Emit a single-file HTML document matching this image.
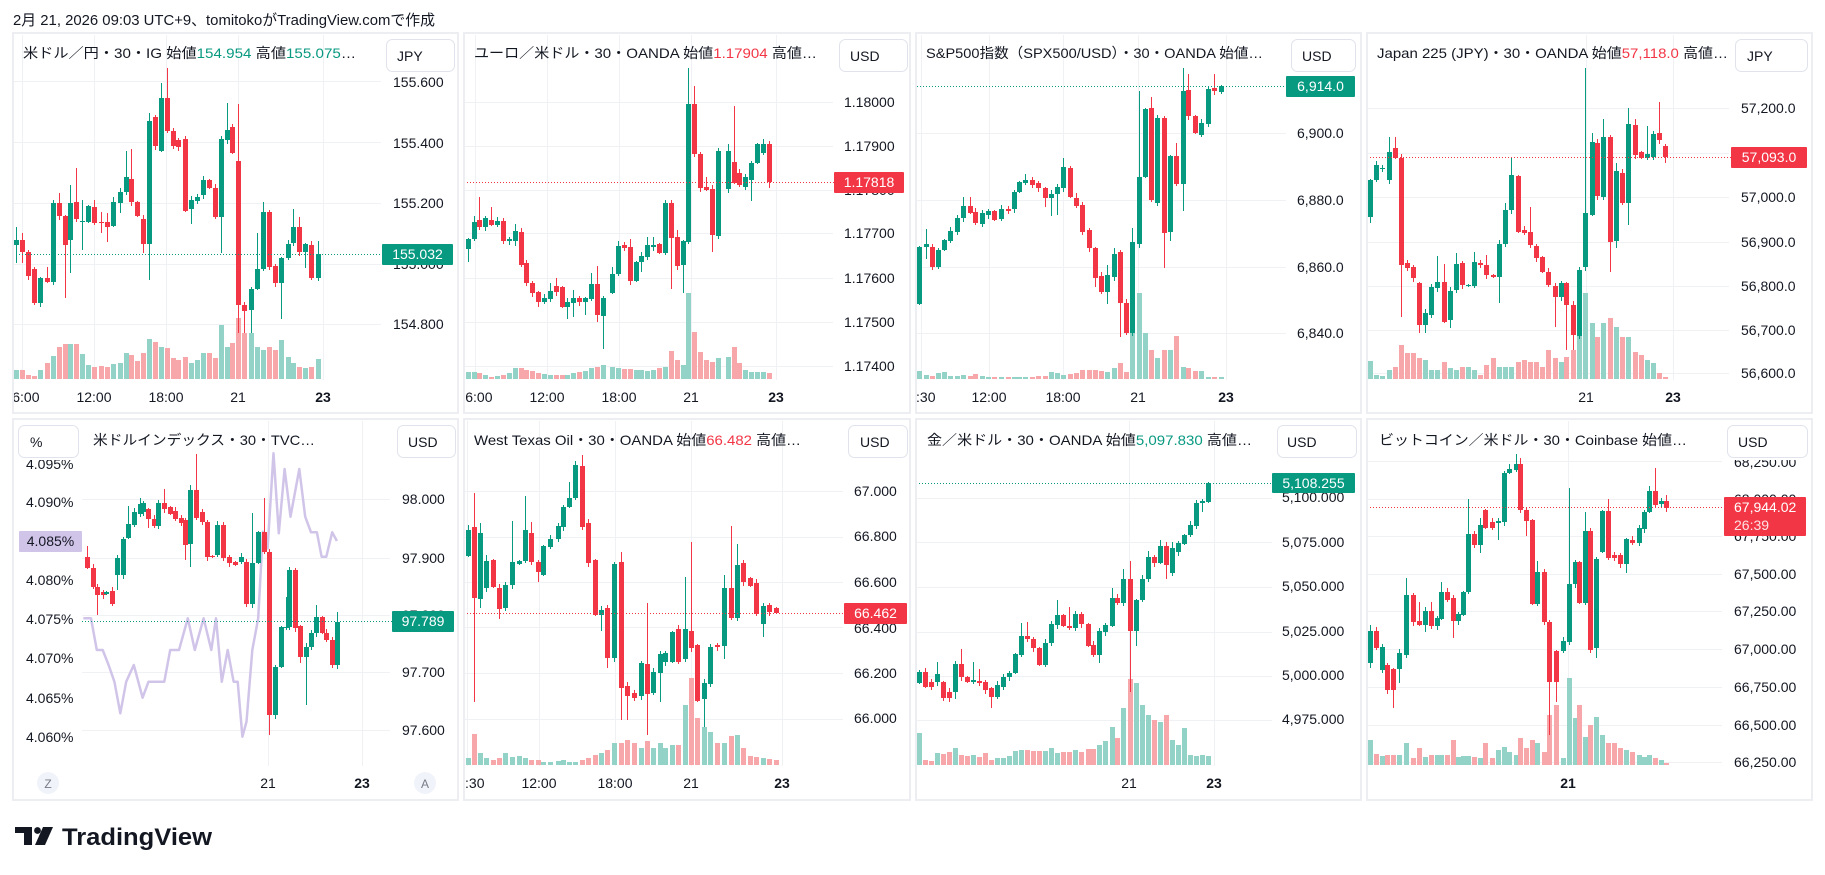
<!DOCTYPE html>
<html><head><meta charset="utf-8"><style>
html,body{margin:0;padding:0;background:#fff;width:1825px;height:875px;overflow:hidden}
svg{display:block}
text{font-family:"Liberation Sans","Noto Sans CJK JP",sans-serif;fill:#131722}
.ax{font-size:14px}
.tt{font-size:14px}
.tm{font-size:14px;text-anchor:middle}
.b{font-weight:bold}
.g{fill:#089981}.r{fill:#f23645}
.w{fill:#fff;font-size:14px;text-anchor:middle}
</style></head><body>
<svg id="s" width="1825" height="875" viewBox="0 0 1825 875" xmlns="http://www.w3.org/2000/svg">
<rect width="1825" height="875" fill="#fff"/>
<text x="13" y="25" font-size="15" textLength="422" lengthAdjust="spacingAndGlyphs">2月 21, 2026 09:03 UTC+9、tomitokoがTradingView.comで作成</text>

<path fill="none" stroke="#f0f1f4" stroke-width="1" d="
M13 81.5H381M13 142.5H381M13 203.5H381M13 264.5H381M13 324.5H381
M464 102.5H833M464 146.5H833M464 190.5H833M464 233.5H833M464 278.5H833M464 322.5H833M464 366.5H833
M917 133.5H1286M917 200.5H1286M917 267.5H1286M917 333.5H1286
M1367 108.5H1729M1367 153.5H1729M1367 197.5H1729M1367 242.5H1729M1367 286.5H1729M1367 330.5H1729M1367 373.5H1729
M82 499.5H390M82 558.5H390M82 615.5H390M82 672.5H390M82 730.5H390
M464 491.5H843M464 537.5H843M464 582.5H843M464 627.5H843M464 673.5H843M464 719.5H843
M916 498.5H1272M916 542.5H1272M916 587.5H1272M916 632.5H1272M916 676.5H1272M916 720.5H1272
M1367 461.5H1722M1367 499.5H1722M1367 536.5H1722M1367 574.5H1722M1367 611.5H1722M1367 649.5H1722M1367 687.5H1722M1367 725.5H1722M1367 762.5H1722
M22.5 35V380M94.5 35V380M166.5 35V380M238.5 35V380M323.5 35V380
M475.5 35V380M547.5 35V380M619.5 35V380M691.5 35V380M776.5 35V380
M921.5 35V380M989.5 35V380M1063.5 35V380M1138.5 35V380M1226.5 35V380
M1586.5 35V380M1673.5 35V380
M268.5 421V766M362.5 421V766
M467.5 421V766M539.5 421V766M615.5 421V766M691.5 421V766M782.5 421V766
M1129.5 421V766M1214.5 421V766
M1568.5 421V766"/>

<!-- DXY compare line -->
<polyline fill="none" stroke="#d1c4e9" stroke-width="2.5" stroke-linejoin="round" points="83.3,618.3 91,618.3 96.8,650 102.7,650 108.6,665 114.4,681.7 120.3,713.3 126.2,681.7 133.8,665 142.6,697.7 148.5,681.7 164.3,681.7 170.2,650 179,650 187.8,618.3 194.8,650 203.6,618.3 211.3,650 216,618.3 221.8,681.7 227.7,650 233.6,681.7 237.7,681.7 242.4,736.7 246.5,721.7 252.3,650 258.2,618.3 262.9,531.7 267.6,548.3 273.5,453.3 278.8,533.3 284.6,469 290.5,516.7 299.3,469 305.2,516.7 311,532.3 316.9,532.3 321.6,556.7 326.3,556.7 332.2,532.3 336.9,541"/>

<g id="cd"></g>

<!-- current price lines -->
<g fill="none" stroke-width="1" stroke-dasharray="1 2">
<path stroke="#089981" d="M13 254.5H382"/>
<path stroke="#f23645" d="M464 182.5H834"/>
<path stroke="#089981" d="M917 86.5H1286"/>
<path stroke="#f23645" d="M1367 157.5H1731"/>
<path stroke="#089981" d="M82 621.5H392"/>
<path stroke="#f23645" d="M464 613.5H844"/>
<path stroke="#089981" d="M916 483.5H1272"/>
<path stroke="#f23645" d="M1367 507.5H1724"/>
</g>

<!-- axis labels -->
<g class="ax">
<text x="393" y="87">155.600</text><text x="393" y="148">155.400</text><text x="393" y="208">155.200</text><text x="393" y="269">155.000</text><text x="393" y="329">154.800</text>
<text x="844" y="107">1.18000</text><text x="844" y="151">1.17900</text><text x="844" y="195">1.17800</text><text x="844" y="238">1.17700</text><text x="844" y="283">1.17600</text><text x="844" y="327">1.17500</text><text x="844" y="371">1.17400</text>
<text x="1297" y="138">6,900.0</text><text x="1297" y="205">6,880.0</text><text x="1297" y="272">6,860.0</text><text x="1297" y="338">6,840.0</text>
<text x="1741" y="113">57,200.0</text><text x="1741" y="158">57,100.0</text><text x="1741" y="202">57,000.0</text><text x="1741" y="247">56,900.0</text><text x="1741" y="291">56,800.0</text><text x="1741" y="335">56,700.0</text><text x="1741" y="378">56,600.0</text>
<text x="402" y="504">98.000</text><text x="402" y="563">97.900</text><text x="402" y="620">97.800</text><text x="402" y="677">97.700</text><text x="402" y="735">97.600</text>
<text x="26" y="469">4.095%</text><text x="26" y="507">4.090%</text><text x="26" y="585">4.080%</text><text x="26" y="624">4.075%</text><text x="26" y="663">4.070%</text><text x="26" y="703">4.065%</text><text x="26" y="742">4.060%</text>
<text x="854" y="496">67.000</text><text x="854" y="541">66.800</text><text x="854" y="587">66.600</text><text x="854" y="633">66.400</text><text x="854" y="678">66.200</text><text x="854" y="723">66.000</text>
<text x="1282" y="502">5,100.000</text><text x="1282" y="547">5,075.000</text><text x="1282" y="591">5,050.000</text><text x="1282" y="636">5,025.000</text><text x="1282" y="680">5,000.000</text><text x="1282" y="724">4,975.000</text>
<text x="1734" y="467">68,250.00</text><text x="1734" y="504">68,000.00</text><text x="1734" y="541">67,750.00</text><text x="1734" y="579">67,500.00</text><text x="1734" y="616">67,250.00</text><text x="1734" y="654">67,000.00</text><text x="1734" y="692">66,750.00</text><text x="1734" y="730">66,500.00</text><text x="1734" y="767">66,250.00</text>
</g>

<!-- top clipping for axes in row 2 -->
<rect x="14" y="421" width="68" height="39" fill="#fff"/>
<rect x="1723" y="421" width="88" height="39" fill="#fff"/>

<!-- time labels -->
<g class="tm">
<text x="22" y="402">06:00</text><text x="94" y="402">12:00</text><text x="166" y="402">18:00</text><text x="238" y="402">21</text><text x="323" y="402" class="b">23</text>
<text x="475" y="402">06:00</text><text x="547" y="402">12:00</text><text x="619" y="402">18:00</text><text x="691" y="402">21</text><text x="776" y="402" class="b">23</text>
<text x="918" y="402">06:30</text><text x="989" y="402">12:00</text><text x="1063" y="402">18:00</text><text x="1138" y="402">21</text><text x="1226" y="402" class="b">23</text>
<text x="1586" y="402">21</text><text x="1673" y="402" class="b">23</text>
<text x="268" y="788">21</text><text x="362" y="788" class="b">23</text>
<text x="467" y="788">06:30</text><text x="539" y="788">12:00</text><text x="615" y="788">18:00</text><text x="691" y="788">21</text><text x="782" y="788" class="b">23</text>
<text x="1129" y="788">21</text><text x="1214" y="788" class="b">23</text>
<text x="1568" y="788" class="b">21</text>
</g>
<circle cx="48" cy="783" r="11" fill="#f0f3fa"/><text x="48" y="788" font-size="12" text-anchor="middle" style="fill:#787b86">Z</text>
<circle cx="425" cy="783" r="11" fill="#f0f3fa"/><text x="425" y="788" font-size="12" text-anchor="middle" style="fill:#787b86">A</text>

<!-- gap whiteouts -->
<g fill="#fff">
<rect x="0" y="30" width="12" height="775"/><rect x="459" y="30" width="4" height="775"/><rect x="911" y="30" width="4" height="775"/><rect x="1362" y="30" width="4" height="775"/><rect x="1813" y="30" width="12" height="775"/>
<rect x="440" y="384" width="23" height="28"/><rect x="893" y="384" width="22" height="28"/><rect x="1345" y="384" width="21" height="28"/>
<rect x="440" y="770" width="23" height="29"/><rect x="893" y="770" width="22" height="29"/><rect x="1345" y="770" width="21" height="29"/>
</g>

<!-- panel frames -->
<g fill="none" stroke="#eceef1" stroke-width="2">
<rect x="13" y="33" width="445" height="380"/><rect x="464" y="33" width="446" height="380"/><rect x="916" y="33" width="445" height="380"/><rect x="1367" y="33" width="445" height="380"/>
<rect x="13" y="419" width="445" height="381"/><rect x="464" y="419" width="446" height="381"/><rect x="916" y="419" width="445" height="381"/><rect x="1367" y="419" width="445" height="381"/>
</g>

<!-- titles -->
<g class="tt">
<text x="23" y="58" textLength="333" lengthAdjust="spacingAndGlyphs">米ドル／円・30・IG  始値<tspan class="g">154.954</tspan>  高値<tspan class="g">155.075</tspan>…</text>
<text x="474" y="58" textLength="343" lengthAdjust="spacingAndGlyphs">ユーロ／米ドル・30・OANDA  始値<tspan class="r">1.17904</tspan>  高値…</text>
<text x="926" y="58" textLength="337" lengthAdjust="spacingAndGlyphs">S&amp;P500指数（SPX500/USD）・30・OANDA  始値…</text>
<text x="1377" y="58" textLength="351" lengthAdjust="spacingAndGlyphs">Japan 225 (JPY)・30・OANDA  始値<tspan class="r">57,118.0</tspan>  高値…</text>
<text x="93" y="445" textLength="222" lengthAdjust="spacingAndGlyphs">米ドルインデックス・30・TVC…</text>
<text x="474" y="445" textLength="327" lengthAdjust="spacingAndGlyphs">West Texas Oil・30・OANDA  始値<tspan class="r">66.482</tspan>  高値…</text>
<text x="927" y="445" textLength="325" lengthAdjust="spacingAndGlyphs">金／米ドル・30・OANDA  始値<tspan class="g">5,097.830</tspan>  高値…</text>
<text x="1379" y="445" textLength="308" lengthAdjust="spacingAndGlyphs">ビットコイン／米ドル・30・Coinbase  始値…</text>
</g>

<!-- currency boxes -->
<g fill="#fff" stroke="#e0e3eb" stroke-width="1">
<rect x="386.5" y="39.5" width="68" height="32" rx="6"/><rect x="839.5" y="39.5" width="68" height="32" rx="6"/><rect x="1291.5" y="39.5" width="64" height="32" rx="6"/><rect x="1735.5" y="39.5" width="72" height="32" rx="6"/>
<rect x="18.5" y="425.5" width="60" height="32" rx="6"/><rect x="397.5" y="425.5" width="58" height="32" rx="6"/><rect x="848.5" y="425.5" width="59" height="32" rx="6"/><rect x="1277.5" y="425.5" width="79" height="32" rx="6"/><rect x="1727.5" y="425.5" width="80" height="32" rx="6"/>
</g>
<g class="ax">
<text x="397" y="61">JPY</text><text x="850" y="61">USD</text><text x="1302" y="61">USD</text><text x="1747" y="61">JPY</text>
<text x="30" y="447">%</text><text x="408" y="447">USD</text><text x="860" y="447">USD</text><text x="1287" y="447">USD</text><text x="1738" y="447">USD</text>
</g>

<!-- last price labels -->
<rect x="382" y="244" width="71" height="21" fill="#089981" rx="1"/><text class="w" x="417.5" y="259">155.032</text>
<rect x="834" y="172" width="70" height="21" fill="#f23645" rx="1"/><text class="w" x="869" y="187">1.17818</text>
<rect x="1286" y="76" width="69" height="21" fill="#089981" rx="1"/><text class="w" x="1320.5" y="91">6,914.0</text>
<rect x="1731" y="147" width="76" height="21" fill="#f23645" rx="1"/><text class="w" x="1769" y="162">57,093.0</text>
<rect x="392" y="611" width="62" height="21" fill="#089981" rx="1"/><text class="w" x="423" y="626">97.789</text>
<rect x="19" y="531" width="63" height="21" fill="#d1c4e9" rx="1"/><text class="ax" x="50.5" y="546" text-anchor="middle">4.085%</text>
<rect x="844" y="603" width="63" height="21" fill="#f23645" rx="1"/><text class="w" x="875.5" y="618">66.462</text>
<rect x="1272" y="473" width="83" height="20" fill="#089981" rx="1"/><text class="w" x="1313.5" y="488">5,108.255</text>
<rect x="1724" y="497" width="82" height="39" fill="#f23645" rx="1"/><text x="1734" y="512" font-size="14" style="fill:#fff">67,944.02</text><text x="1734" y="530" font-size="14" style="fill:#fff;opacity:.85">26:39</text>

<!-- logo -->
<g fill="#131722">
<path d="M15 827H32V845H24V833H15Z"/>
<circle cx="37.5" cy="830.5" r="3.4"/>
<path d="M43 827H53L45 845H35Z"/>
</g>
<text x="62" y="845" font-size="24" font-weight="bold" textLength="150" lengthAdjust="spacingAndGlyphs">TradingView</text>
</svg>
<script>
(function(){
var NS="http://www.w3.org/2000/svg",G=document.getElementById('cd');
function el(t,a){var e=document.createElementNS(NS,t);for(var k in a)e.setAttribute(k,a[k]);G.appendChild(e);return e;}
var UP='#089981',DN='#f23645',VU='#92d2c7',VD='#f7a7a9';
function P(cx,cy,vb,C,V){
 var i,c,x;
 if(V){for(i=0;i<C.length;i++){c=C[i];x=Math.round(cx+c[0]/1.704);var v=(V[i]!==undefined)?V[i]:vb-12;var yt=Math.round(cy+v/3),yb=Math.round(cy+vb/3);
  el('rect',{x:x-2,y:yt,width:5,height:Math.max(1,yb-yt),fill:c[1]?VU:VD});}}
 for(i=0;i<C.length;i++){c=C[i];x=Math.round(cx+c[0]/1.704);
  var t=Math.round(cy+c[2]/3),b=Math.max(Math.round(cy+c[3]/3),t+1);
  var h=c[4]?Math.round(cy+c[4]/3):t-(1+(i*7)%4),l=c[5]?Math.round(cy+c[5]/3):b+(1+(i*5)%4);
  var col=c[1]?UP:DN;
  el('rect',{x:x,y:h,width:1,height:l-h,fill:col});
  el('rect',{x:x-2,y:t,width:5,height:b-t,fill:col});}
}
P(0,0,1137,[[27,1,720,735,680,790],[38,0,720,755,700,790],[48,0,757,828,750,840],[58,0,808,910,0,915],[68,1,835,910,0,922],[80,0,835,845,800,850],[90,1,610,845,600,0],[100,0,610,648,580,0],[110,0,648,735,0,893],[120,1,610,720,555,820],[130,0,607,657,505,0],[140,1,662,666,600,750],[150,1,617,665,0,0],[160,0,620,670,600,0],[172,0,665,668,635,700],[182,0,665,680,640,725],[192,1,607,678,590,0],[204,1,577,608,0,640],[214,1,532,577,453,0],[224,0,536,605,448,0],[234,0,605,648,0,0],[244,0,657,731,0,760],[254,1,363,731,340,840],[264,0,350,437,0,0],[274,1,293,452,250,0],[284,0,293,393,205,0],[294,0,393,438,0,0],[304,0,420,440,0,0],[316,0,418,632,408,0],[326,1,600,628,0,672],[336,1,590,603,0,0],[346,1,540,585,528,0],[356,0,540,565,0,0],[366,0,565,650,0,0],[376,1,418,650,0,760],[386,1,390,420,310,0],[396,0,380,458,372,0],[406,0,483,915,313,1000],[416,0,915,933,0,1000],[428,1,868,930,0,1000],[438,1,806,868,700,0],[448,1,637,806,605,0],[458,0,635,800,630,0],[468,0,797,850,0,0],[478,1,775,850,0,958],[490,1,732,775,0,0],[500,1,680,730,628,0],[510,0,680,755,650,0],[520,1,733,755,0,805],[530,0,735,833,0,0],[542,1,762,835,722,0]],
[1110,1110,1125,1128,1110,1090,1068,1040,1032,1032,1032,1062,1095,1100,1098,1100,1092,1090,1060,1065,1082,1060,1018,1025,1040,1045,1075,1080,1072,1090,1080,1060,1060,1075,975,1040,1030,955,1000,1000,1040,1050,1040,1050,1020,1070,1090,1100,1105,1100,1078]);
P(0,0,1137,[[797,1,717,748,0,785],[807,1,667,717,647,0],[817,0,660,680,592,0],[827,1,655,680,0,0],[837,0,660,675,622,0],[847,1,662,676,0,0],[857,0,662,722,0,0],[867,1,718,722,0,0],[877,1,693,722,673,738],[887,0,695,795,0,0],[897,0,790,850,0,0],[907,0,848,880,0,0],[917,0,875,905,0,920],[927,1,893,905,0,0],[937,1,872,897,848,0],[947,0,858,875,833,0],[957,0,860,922,0,0],[967,1,906,922,0,958],[977,1,893,908,870,950],[987,0,893,905,0,0],[997,1,893,905,0,945],[1007,1,853,897,818,0],[1017,0,853,945,798,965],[1027,1,893,948,0,1048],[1043,1,822,880,800,0],[1053,1,738,822,723,0],[1063,0,735,745,0,0],[1073,0,740,843,718,0],[1083,1,785,843,0,0],[1093,1,767,785,0,815],[1103,1,735,770,712,0],[1113,1,735,740,712,0],[1123,0,733,760,0,0],[1133,1,610,760,600,0],[1143,0,610,715,0,868],[1153,0,712,797,690,0],[1163,1,722,795,0,880],[1173,1,312,727,205,0],[1183,0,312,463,258,0],[1193,0,463,565,0,0],[1203,0,562,570,530,0],[1213,0,567,705,0,757],[1223,1,453,708,0,0],[1240,1,453,568,432,0],[1250,0,485,550,318,0],[1260,0,520,555,0,0],[1270,1,530,560,0,0],[1280,1,488,540,0,602],[1290,1,432,490,0,0],[1300,1,432,460,418,0],[1310,0,432,547,0,565]],
[1117,1117,1120,1125,1130,1128,1125,1118,1105,1105,1110,1112,1120,1122,1125,1125,1125,1125,1120,1115,1112,1105,1102,1095,1100,1105,1108,1108,1110,1110,1112,1110,1105,1100,1053,1080,1095,880,995,1055,1080,1085,1075,1070,1040,1090,1110,1115,1115,1117,1120,1115]);
P(905,0,1137,[[24,1,740,912,0,915],[35,1,733,742,688,778],[46,0,740,800,0,0],[56,1,750,800,0,808],[67,1,720,750,0,0],[77,1,693,722,0,0],[88,1,655,697,0,0],[98,1,617,655,590,0],[110,0,617,640,590,0],[120,0,637,670,0,675],[131,1,640,672,0,0],[141,1,633,645,0,0],[151,0,633,660,0,0],[164,1,628,658,0,0],[175,0,626,632,0,0],[185,1,575,627,0,0],[195,1,545,577,0,0],[205,1,540,548,522,0],[216,0,540,555,0,0],[227,0,548,565,0,0],[239,0,563,593,0,620],[249,1,582,593,0,648],[259,1,561,583,0,645],[270,1,500,565,475,0],[282,0,503,592,497,0],[292,0,595,617,580,0],[302,0,615,695,0,0],[313,0,690,743,0,0],[323,0,745,835,0,862],[334,0,828,875,0,0],[344,1,825,875,795,912],[356,1,762,832,745,0],[367,0,755,910,750,1010],[377,0,910,1000,0,0],[387,1,726,1000,685,0],[399,1,530,732,273,0],[409,1,327,530,0,0],[419,0,323,600,292,0],[429,1,353,608,0,0],[441,0,353,700,0,805],[451,1,468,695,0,722],[461,0,468,553,430,0],[473,1,272,552,205,632],[483,0,270,347,222,0],[494,0,347,400,0,0],[505,1,370,405,0,0],[516,1,268,373,0,0],[527,0,264,272,222,0],[538,1,258,275,0,282]],
[1113,1125,1127,1120,1115,1128,1128,1125,1128,1122,1128,1130,1130,1130,1130,1130,1130,1130,1130,1128,1128,1115,1120,1125,1122,1120,1110,1110,1110,1112,1115,1105,1088,1115,1000,880,1000,1050,1075,1050,1050,1008,1100,1105,1112,1112,1130,1132,1132]);
P(905,0,1137,[[793,1,540,652,0,670],[803,1,495,540,0,0],[813,1,503,507,0,0],[824,1,455,540,410,0],[835,0,445,475,410,0],[845,0,475,795,0,950],[855,0,790,805,0,0],[865,0,800,835,0,0],[876,0,850,975,0,1000],[886,1,940,975,0,1000],[897,1,860,945,0,0],[907,1,845,865,768,0],[918,0,845,965,793,0],[929,1,872,960,0,985],[939,1,792,870,760,0],[949,0,790,855,0,0],[959,1,855,858,0,0],[970,1,787,857,755,0],[980,0,790,795,0,0],[990,0,795,825,765,0],[1002,0,825,830,0,0],[1013,1,732,830,0,908],[1023,1,630,732,608,0],[1033,1,525,630,472,0],[1044,0,528,697,0,700],[1054,0,690,700,0,0],[1065,0,697,735,622,0],[1075,0,737,775,0,0],[1086,0,772,815,0,0],[1096,0,815,855,0,0],[1107,0,858,892,0,980],[1117,1,850,892,0,0],[1127,0,850,915,0,1050],[1138,0,915,1005,0,1050],[1149,1,810,1008,0,0],[1159,1,640,800,205,0],[1170,1,425,645,400,0],[1180,0,428,587,0,600],[1190,1,410,590,358,0],[1201,0,410,725,0,815],[1212,1,513,722,490,745],[1222,0,518,610,0,0],[1232,1,373,610,325,675],[1244,0,375,465,357,0],[1254,0,455,475,0,0],[1264,1,462,475,378,0],[1275,1,402,472,0,0],[1285,0,400,420,305,0],[1295,0,437,470,432,490]],
[1083,1125,1128,1110,1100,1035,1060,1060,1075,1080,1110,1110,1085,1105,1110,1100,1100,1110,1125,1095,1075,1100,1100,1100,1085,1080,1085,1085,1100,1050,1075,1085,1070,1050,1000,880,970,1010,970,955,980,1010,1010,1055,1065,1080,1090,1120,1132]);
P(0,415,0,[[148,0,427,458,393,0],[158,0,458,515,0,0],[166,0,515,540,0,600],[176,0,532,540,0,0],[181,1,532,538,0,0],[190,0,527,568,0,0],[200,1,430,480,0,525],[210,1,372,480,0,0],[218,1,328,368,272,0],[228,1,290,330,0,0],[238,1,267,297,250,0],[244,1,263,290,0,0],[252,0,283,312,0,340],[262,0,313,333,0,0],[270,1,263,333,0,0],[280,0,265,283,222,0],[290,0,275,297,0,0],[298,0,288,313,0,0],[308,0,310,325,0,0],[316,0,315,390,0,435],[324,1,225,388,210,455],[334,0,225,310,118,0],[344,0,290,320,0,0],[352,0,320,425,0,0],[362,0,422,425,0,0],[370,1,330,420,0,0],[380,0,330,430,0,0],[390,0,425,445,0,0],[400,0,440,450,0,0],[410,1,425,440,0,0],[420,0,440,568,0,0],[430,1,445,568,295,0],[440,1,350,445,0,0],[450,0,350,410,250,0],[458,0,410,900,0,960],[468,1,755,900,0,0],[478,1,635,755,0,0],[488,1,635,640,545,0],[492,1,465,637,0,0],[502,0,465,640,0,0],[512,0,633,725,0,745],[522,1,695,725,0,870],[530,1,655,695,0,0],[538,1,607,655,570,0],[548,0,605,655,0,0],[556,0,655,675,0,0],[566,0,675,750,0,760],[574,1,620,750,592,0]],null);
P(0,415,1050,[[797,1,345,423,330,0],[808,0,337,548,233,862],[818,1,353,552,325,578],[828,1,437,518,420,0],[840,0,435,515,0,0],[850,0,518,582,0,612],[860,1,510,580,0,0],[872,1,440,510,318,0],[884,1,437,447,0,0],[894,1,345,437,243,0],[904,0,353,440,322,0],[916,0,440,472,0,500],[926,1,393,480,0,0],[938,1,372,395,0,0],[950,1,332,372,0,0],[960,1,275,335,0,0],[970,1,250,275,200,0],[980,1,150,250,0,0],[992,0,152,335,120,0],[1002,0,325,445,312,0],[1014,0,435,600,0,0],[1024,1,585,600,0,648],[1035,0,580,730,0,760],[1047,1,447,728,0,0],[1058,0,440,820,412,915],[1068,0,812,842,0,915],[1080,0,835,850,0,0],[1092,1,745,842,0,0],[1102,0,748,838,565,960],[1113,1,772,835,0,0],[1124,1,717,775,0,860],[1134,1,713,740,0,0],[1145,1,650,740,0,0],[1156,0,643,740,0,0],[1168,1,643,732,485,0],[1178,0,648,700,382,0],[1188,0,690,858,0,0],[1200,1,805,852,0,935],[1210,1,697,808,0,0],[1222,0,690,695,0,0],[1233,1,520,692,480,732],[1245,0,520,608,333,0],[1256,1,450,608,388,0],[1266,0,445,500,435,0],[1278,0,490,512,0,0],[1288,0,505,598,0,0],[1300,1,573,628,0,665],[1310,0,570,590,0,0],[1322,0,580,595,0,0]],
[1030,958,1015,1030,1035,1030,1015,1025,1022,1030,1035,1035,1040,1040,1038,1036,1040,1040,1035,1030,1020,1015,1005,985,985,975,985,1000,978,1000,985,998,990,990,870,790,910,935,950,985,985,962,960,1000,1022,1025,1030,1032,1035]);
P(905,415,1050,[[24,1,770,805,765,0],[34,0,772,815,760,818],[44,0,800,815,0,0],[55,1,778,800,740,0],[65,0,800,848,0,858],[75,0,830,850,0,860],[85,1,747,830,0,852],[96,0,747,785,703,0],[106,0,785,800,0,0],[116,1,795,800,742,0],[126,0,797,805,762,0],[136,0,800,825,0,0],[146,0,820,845,0,878],[157,1,810,845,0,0],[167,1,785,815,0,0],[177,1,773,785,0,0],[188,1,718,775,0,0],[198,1,663,720,625,0],[208,0,663,673,620,0],[218,0,673,700,0,0],[228,0,698,750,0,0],[239,1,685,750,0,0],[249,1,628,685,0,0],[259,1,600,630,555,0],[270,0,600,632,0,0],[280,0,632,640,575,0],[290,1,598,640,0,0],[300,0,598,628,0,0],[311,0,628,692,0,0],[321,0,690,720,0,0],[331,1,648,720,0,743],[341,1,630,650,0,0],[352,1,550,633,520,0],[362,0,550,565,0,0],[372,1,492,565,462,0],[383,0,492,648,438,830],[393,1,555,648,0,692],[403,1,493,555,0,0],[414,1,425,493,408,0],[424,0,425,443,0,0],[434,1,393,443,375,0],[444,0,393,450,0,492],[455,1,400,473,380,0],[465,1,385,412,0,0],[475,1,360,388,0,0],[486,1,330,360,0,0],[496,1,263,332,0,0],[506,1,258,265,0,290],[516,1,205,262,0,0]],
[955,1035,1038,1015,1018,1010,1000,1020,1022,1020,1025,1015,1035,1028,1030,1022,1008,1005,1005,1008,1008,1008,1000,1015,1010,1010,1005,1010,1003,1003,990,978,935,970,880,793,805,870,900,915,920,900,975,990,940,1020,1022,1020,1022]);
P(905,415,1050,[[793,1,648,745,630,760],[803,0,648,700,0,0],[813,1,697,765,0,0],[822,0,750,825,0,0],[832,0,762,825,0,878],[842,1,715,762,0,805],[853,1,540,720,490,0],[865,0,540,620,0,0],[876,0,618,630,560,0],[886,1,588,630,0,650],[896,0,588,633,560,0],[906,1,610,633,0,0],[914,1,532,612,500,0],[924,0,532,555,0,0],[933,0,550,618,0,668],[943,1,598,618,0,0],[950,1,530,600,0,0],[960,1,357,532,252,0],[970,0,357,390,0,0],[979,1,330,390,310,415],[989,0,285,340,0,0],[1000,0,320,340,0,0],[1010,1,318,325,0,375],[1020,1,175,320,0,0],[1030,1,163,175,148,0],[1041,1,147,165,118,0],[1048,0,148,285,128,0],[1058,0,285,318,0,362],[1068,0,315,568,0,0],[1077,1,470,568,438,0],[1089,0,470,622,0,0],[1098,0,620,800,0,960],[1109,0,708,800,0,860],[1121,1,678,708,0,0],[1132,1,508,680,220,0],[1142,1,440,508,0,0],[1148,0,440,563,0,0],[1158,1,348,563,290,0],[1168,0,348,705,0,0],[1178,1,432,700,0,730],[1188,1,288,412,0,0],[1198,0,288,428,252,0],[1208,0,420,430,0,0],[1218,0,420,448,0,0],[1228,1,372,448,0,475],[1238,0,375,383,0,0],[1250,1,340,383,0,0],[1260,1,290,342,0,0],[1268,1,228,290,212,0],[1278,0,228,270,158,0],[1288,1,258,268,0,0],[1297,0,258,278,240,0]],
[975,1018,1022,1020,1020,1020,985,1030,1000,1025,1020,1020,1020,1020,975,1025,1022,1022,1025,1030,985,1028,1005,995,1010,1020,970,1000,975,985,1010,900,870,1030,790,910,870,965,930,905,960,985,985,1000,1005,1010,1020,1025,1020,1030,1035,1045]);
})();
</script>
</body></html>
